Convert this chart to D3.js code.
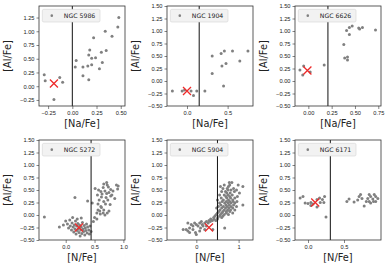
<!DOCTYPE html>
<html>
<head>
<meta charset="utf-8">
<script src="https://cdn.jsdelivr.net/npm/d3@7"></script>
<style>
body { margin: 0; background: #fff; }
svg { display: block; font-family: "DejaVu Sans", sans-serif; }
.tick text { font-size: 5.7px; fill: #222; }
.tick line { stroke: #333; stroke-width: 0.6; }
.axis-label { font-size: 9.8px; fill: #222; }
.legend-text { font-size: 6.2px; fill: #222; }
</style>
</head>
<body>
<svg width="391" height="266"></svg>
<script>
const clusters = ['NGC 5986', 'NGC 1904', 'NGC 6626', 'NGC 5272', 'NGC 5904', 'NGC 6171']
const xLabels = ['[Na/Fe]', '[Na/Fe]', '[Na/Fe]', '[N/Fe]', '[N/Fe]', '[N/Fe]']
const yLabel = '[Al/Fe]'
const cuts = [0.0, 0.15, 0.21, 0.44, 0.5, 0.31]
const crosses = [[-0.19, 0.05], [0.0, -0.20], [-0.01, 0.21], [0.23, -0.25], [0.30, -0.25], [0.10, 0.25]]
const xTicks = [[-0.25, 0, 0.25, 0.5], [0, 0.5], [0, 0.25, 0.5, 0.75], [0, 0.5, 1], [0, 1], [0, 0.5]]
const xFormats = ['.2f', '.1f', '.2f', '.1f', 'd', '.1f']
const yTicksFirst = [-0.25, 0, 0.25, 0.5, 0.75, 1, 1.25]
const yTicksRest = [-0.5, -0.25, 0, 0.25, 0.5, 0.75, 1, 1.25, 1.5]
const xDomains = [[-0.344, 0.544], [-0.246, 0.812], [-0.143, 0.779], [-0.463, 1.028], [-0.693, 1.34], [-0.181, 1.014]]
const yDomains = [[-0.36, 1.46], [-0.5, 1.5], [-0.5, 1.5], [-0.5, 1.5], [-0.5, 1.5], [-0.5, 1.5]]

const ngc5986 = [
  [0.48, 1.25], [0.47, 1.08], [0.34, 1.00], [0.41, 0.91], [0.22, 0.88], [0.18, 0.66],
  [0.35, 0.65], [0.30, 0.62], [0.17, 0.57], [0.20, 0.51], [0.24, 0.52], [0.04, 0.47],
  [0.31, 0.43], [0.20, 0.39], [0.16, 0.37], [0.11, 0.35], [0.03, 0.35], [0.28, 0.32],
  [0.11, 0.19], [0.17, 0.12], [-0.29, 0.21], [-0.28, 0.10], [-0.13, 0.16], [-0.10, 0.07],
  [-0.19, -0.24]
]
const ngc1904 = [
  [0.75, 0.60], [0.56, 0.60], [0.46, 0.60], [0.42, 0.55], [0.65, 0.40], [0.31, 0.50],
  [0.48, 0.35], [0.43, 0.30], [0.31, 0.15], [0.45, -0.10], [-0.18, -0.20], [-0.06, -0.20],
  [-0.03, -0.18], [0.05, -0.20], [0.12, -0.20], [0.22, -0.20], [0.08, -0.29]
]
const ngc6626 = [
  [0.72, 1.02], [0.58, 1.07], [0.55, 1.04], [0.54, 1.06], [0.47, 1.10], [0.44, 1.07],
  [0.41, 1.01], [0.44, 0.93], [0.38, 0.73], [0.39, 0.46], [0.42, 0.48], [0.42, 0.42],
  [0.17, 0.32], [-0.09, 0.22], [-0.05, 0.30], [-0.06, 0.12], [0.02, 0.18]
]
const ngc5272 = [
  [-0.11, -0.24], [-0.04, -0.20], [0.00, -0.12], [0.03, -0.18], [0.05, -0.26], [0.07, -0.10],
  [0.08, -0.22], [0.10, -0.30], [0.11, -0.16], [0.13, -0.24], [0.14, -0.34], [0.15, -0.20],
  [0.16, -0.28], [0.17, -0.12], [0.18, -0.38], [0.19, -0.22], [0.20, -0.31], [0.21, -0.17],
  [0.22, -0.27], [0.23, -0.35], [0.24, -0.20], [0.25, -0.42], [0.26, -0.30], [0.27, -0.24],
  [0.28, -0.37], [0.29, -0.15], [0.30, -0.28], [0.31, -0.33], [0.32, -0.21], [0.33, -0.40],
  [0.34, -0.26], [0.35, -0.31], [0.36, -0.18], [0.37, -0.36], [0.38, -0.24], [0.40, -0.30],
  [0.41, -0.38], [0.42, -0.22], [0.44, -0.33], [0.20, -0.08], [0.27, -0.06], [0.12, -0.05],
  [-0.37, -0.04], [0.16, 0.35], [0.38, 0.28], [0.46, 0.24], [0.48, -0.13],
  [0.50, -0.05], [0.54, -0.08], [0.54, 0.04], [0.56, 0.10], [0.59, 0.08], [0.60, 0.02],
  [0.62, 0.15], [0.65, 0.04], [0.66, 0.10], [0.68, 0.00], [0.72, 0.04], [0.75, 0.08],
  [0.61, 0.17], [0.66, 0.27], [0.77, 0.21], [0.73, 0.30], [0.62, 0.36], [0.85, 0.33],
  [0.55, 0.40], [0.80, 0.40], [0.71, 0.43], [0.61, 0.47], [0.51, 0.53], [0.65, 0.55],
  [0.78, 0.51], [0.71, 0.65], [0.72, 0.60], [0.88, 0.60], [0.91, 0.58], [0.68, 0.48],
  [0.75, 0.45], [0.58, 0.30], [0.70, 0.35], [0.82, 0.48], [0.90, 0.52], [0.66, 0.62],
  [0.74, 0.56], [0.57, 0.50], [0.63, 0.42], [0.78, 0.38], [0.69, 0.22], [0.56, 0.22]
]
const ngc5904 = [
  [0.78, 0.65], [0.84, 0.65], [0.66, 0.60], [0.79, 0.60], [0.99, 0.60], [0.57, 0.57],
  [0.76, 0.57], [1.10, 0.57], [0.63, 0.53], [0.73, 0.53], [0.88, 0.53], [0.75, 0.50],
  [0.82, 0.50], [0.95, 0.50], [0.60, 0.47], [0.69, 0.47], [0.90, 0.47], [0.72, 0.44],
  [0.80, 0.44], [1.02, 0.44], [0.55, 0.40], [0.66, 0.40], [0.75, 0.40], [0.85, 0.40],
  [0.70, 0.37], [0.79, 0.37], [0.97, 0.37], [0.59, 0.34], [0.72, 0.34], [0.81, 0.34],
  [0.91, 0.34], [0.50, 0.30], [0.64, 0.30], [0.76, 0.30], [0.86, 0.30], [0.61, 0.27],
  [0.71, 0.27], [0.79, 0.27], [0.87, 0.27], [0.96, 0.27], [0.55, 0.24], [0.67, 0.24],
  [0.75, 0.24], [0.82, 0.24], [0.91, 0.24], [0.58, 0.20], [0.70, 0.20], [0.78, 0.20],
  [0.88, 0.20], [1.10, 0.20], [0.52, 0.17], [0.64, 0.17], [0.73, 0.17], [0.82, 0.17],
  [0.95, 0.17], [0.48, 0.14], [0.60, 0.14], [0.69, 0.14], [0.77, 0.14], [0.86, 0.14],
  [0.56, 0.10], [0.66, 0.10], [0.74, 0.10], [0.81, 0.10], [0.91, 0.10], [0.53, 0.07],
  [0.63, 0.07], [0.71, 0.07], [0.79, 0.07], [0.50, 0.04], [0.60, 0.04], [0.71, 0.04],
  [0.86, 0.04], [0.47, 0.01], [0.57, 0.01], [0.66, 0.01], [0.76, 0.01], [0.44, -0.02],
  [0.55, -0.02], [0.63, -0.02], [0.41, -0.05], [0.51, -0.05], [0.60, -0.05], [0.34, -0.08],
  [0.42, -0.08], [0.50, -0.08], [0.30, -0.11], [0.38, -0.11], [0.46, -0.11], [0.12, -0.13],
  [0.24, -0.13], [0.33, -0.13], [-0.20, -0.16], [-0.04, -0.16], [0.08, -0.16], [0.20, -0.16],
  [0.28, -0.16], [-0.12, -0.19], [0.00, -0.19], [0.14, -0.19], [-0.08, -0.22], [0.04, -0.22],
  [0.16, -0.22], [0.24, -0.22], [-0.16, -0.26], [0.10, -0.26], [0.67, -0.26], [-0.31, -0.29],
  [-0.24, -0.29], [-0.08, -0.29], [0.20, -0.29], [0.39, -0.29], [-0.20, -0.32], [0.08, -0.32],
  [-0.16, -0.35], [-0.02, -0.35], [0.00, -0.39]
]
const ngc6171 = [
  [-0.11, 0.34], [-0.07, 0.37], [-0.04, 0.24], [0.00, 0.23], [0.04, 0.25], [0.07, 0.22],
  [0.125, 0.31], [0.16, 0.34], [0.20, 0.31], [0.23, 0.37], [0.17, 0.25], [0.22, 0.25],
  [0.125, 0.16], [0.04, 0.19], [0.25, -0.04],
  [0.54, 0.27], [0.57, 0.32], [0.64, 0.26], [0.71, 0.37], [0.73, 0.41], [0.75, 0.33],
  [0.78, 0.18], [0.83, 0.33], [0.85, 0.41], [0.87, 0.37], [0.90, 0.32], [0.92, 0.41],
  [0.94, 0.37], [0.97, 0.33], [0.94, 0.27], [0.85, 0.27], [0.87, 0.24], [0.81, 0.27],
  [0.69, 0.30], [0.91, 0.27]
]
const points = [ngc5986, ngc1904, ngc6626, ngc5272, ngc5904, ngc6171]

const colLeft = [39, 167, 295]
const rowTop = [6, 140]
const pw = 86, ph = 100

const svg = d3.select('svg')

clusters.forEach((name, i) => {
  const left = colLeft[i % 3]
  const top = rowTop[Math.floor(i / 3)]
  const g = svg.append('g').attr('transform', `translate(${left},${top})`)

  const x = d3.scaleLinear().domain(xDomains[i]).range([0, pw])
  const y = d3.scaleLinear().domain(yDomains[i]).range([ph, 0])

  const xAxis = d3.axisBottom(x).tickValues(xTicks[i])
    .tickFormat(d3.format(xFormats[i])).tickSize(3).tickPadding(2)
  const yAxis = d3.axisLeft(y).tickValues(i === 0 ? yTicksFirst : yTicksRest)
    .tickFormat(d3.format('.2f')).tickSize(2.5).tickPadding(2)

  const xg = g.append('g').attr('transform', `translate(0,${ph})`).call(xAxis)
  const yg = g.append('g').call(yAxis)
  xg.select('.domain').remove()
  yg.select('.domain').remove()
  g.selectAll('.tick text').attr('font-family', null).attr('font-size', null)

  // points
  g.selectAll('.dot')
    .data(points[i])
    .enter()
    .append('circle')
    .attr('cx', d => x(d[0]))
    .attr('cy', d => y(d[1]))
    .attr('r', 1.5)
    .attr('fill', '#808080')

  // cut line
  g.append('line')
    .attr('x1', x(cuts[i])).attr('x2', x(cuts[i]))
    .attr('y1', 0).attr('y2', ph)
    .attr('stroke', '#111').attr('stroke-width', 1)

  // red cross
  const cx = x(crosses[i][0]), cy = y(crosses[i][1]), s = 4
  g.append('path')
    .attr('d', `M${cx - s},${cy - s}L${cx + s},${cy + s}M${cx - s},${cy + s}L${cx + s},${cy - s}`)
    .attr('stroke', '#ee2a2a').attr('stroke-width', 1.3).attr('fill', 'none')

  // frame
  g.append('rect')
    .attr('width', pw).attr('height', ph)
    .attr('fill', 'none').attr('stroke', '#333').attr('stroke-width', 0.8)

  // legend
  const lg = g.append('g').attr('transform', 'translate(3.3,3.3)')
  lg.append('rect')
    .attr('width', 57.7).attr('height', 12.7).attr('rx', 1.5)
    .attr('fill', '#f2f2f2').attr('stroke', '#d4d4d4').attr('stroke-width', 0.6)
  lg.append('circle').attr('cx', 9.5).attr('cy', 6.35).attr('r', 1.3).attr('fill', '#808080')
  lg.append('text')
    .classed('legend-text', true)
    .attr('x', 21.5).attr('y', 6.35).attr('dy', '0.35em')
    .text(name)

  g.append('text')
    .classed('axis-label', true)
    .attr('text-anchor', 'middle')
    .attr('x', pw / 2).attr('y', ph + 20.5)
    .text(xLabels[i])

  g.append('text')
    .classed('axis-label', true)
    .attr('text-anchor', 'middle')
    .attr('transform', `translate(-28,${ph / 2}) rotate(-90)`)
    .text(yLabel)
})
</script>
</body>
</html>
